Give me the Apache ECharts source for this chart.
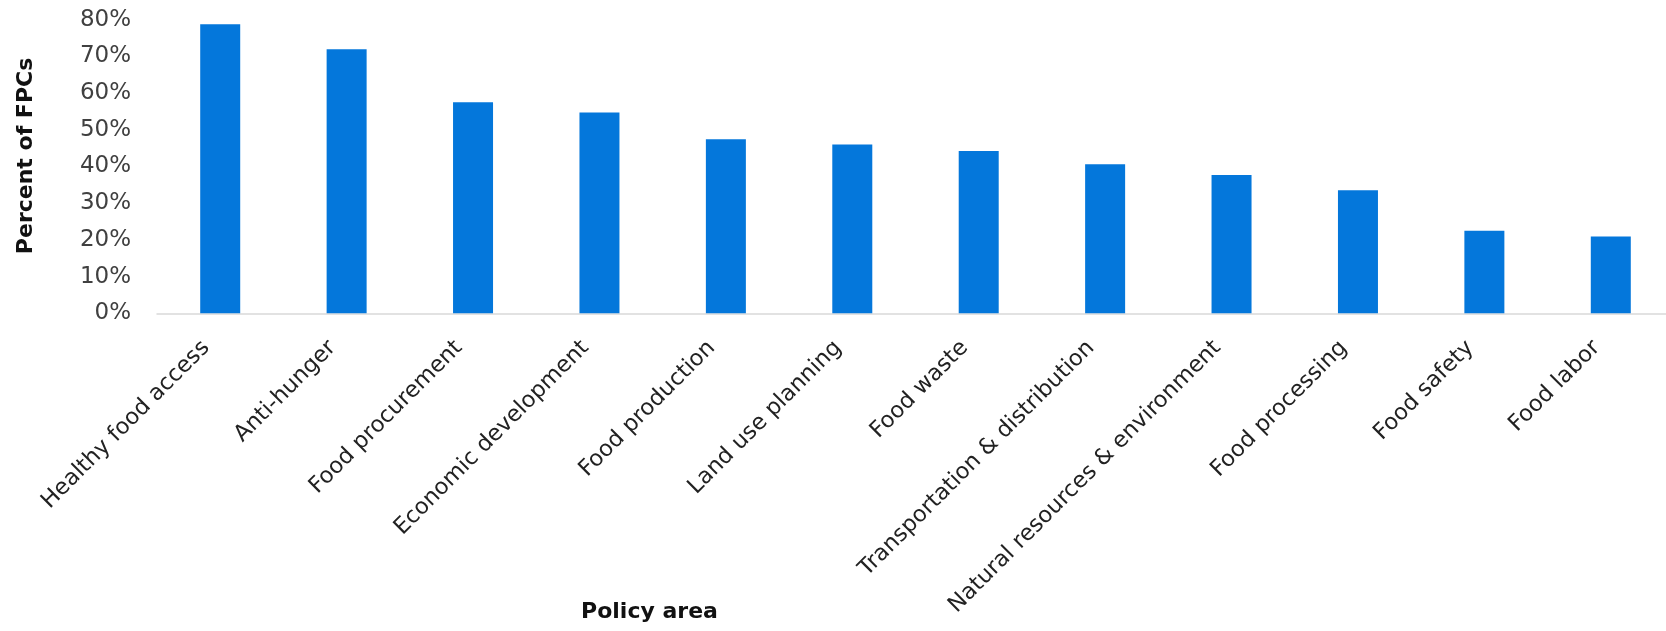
<!DOCTYPE html>
<html>
<head>
<meta charset="utf-8">
<script src="https://cdn.jsdelivr.net/npm/echarts@6/dist/echarts.min.js"></script>
<style>
html,body{margin:0;padding:0;background:#fff;}
#chart{width:1666px;height:631px;}
</style>
</head>
<body>
<div id="chart"></div>
<script>
const categories = [
  "Healthy food access",
  "Anti-hunger",
  "Food procurement",
  "Economic development",
  "Food production",
  "Land use planning",
  "Food waste",
  "Transportation & distribution",
  "Natural resources & environment",
  "Food processing",
  "Food safety",
  "Food labor"
];
const percentValues = [78.7, 71.9, 57.5, 54.7, 47.4, 46.0, 44.2, 40.6, 37.7, 33.5, 22.5, 20.9];
const yTicks = [0, 10, 20, 30, 40, 50, 60, 70, 80];
const xTitle = "Policy area";
const yTitle = "Percent of FPCs";

const FONT = "DejaVu Sans";
const chart = echarts.init(document.getElementById('chart'), null, {renderer: 'canvas'});
chart.setOption({
  animation: false,
  backgroundColor: '#ffffff',
  grid: {left: 157, top: 19.6, height: 293.7, width: 1517, containLabel: false, outerBoundsMode: 'none'},
  xAxis: {
    type: 'category',
    data: categories,
    name: xTitle,
    nameLocation: 'middle',
    nameGap: 288,
    nameMoveOverlap: false,
    nameTextStyle: {fontFamily: FONT, fontWeight: 'bold', fontSize: 22, color: '#111', padding: [0, 532, 0, 0]},
    axisLine: {show: true, lineStyle: {color: '#d9d9d9', width: 1.5}},
    axisTick: {show: false},
    axisLabel: {interval: 0, rotate: 45, margin: 17, padding: [0, 20, 0, 0], fontFamily: FONT, fontSize: 22.5, color: '#222'}
  },
  yAxis: {
    type: 'value',
    min: yTicks[0],
    max: yTicks[yTicks.length - 1],
    interval: yTicks[1] - yTicks[0],
    name: yTitle,
    nameLocation: 'middle',
    nameRotate: 90,
    nameGap: 120,
    nameMoveOverlap: false,
    nameTextStyle: {fontFamily: FONT, fontWeight: 'bold', fontSize: 22, color: '#111', padding: [0, 0, 0, 21]},
    axisLine: {show: false},
    axisTick: {show: false},
    splitLine: {show: false},
    axisLabel: {margin: 26, fontFamily: FONT, fontSize: 23, color: '#404040', formatter: v => v + '%'}
  },
  series: [{
    type: 'bar',
    data: percentValues,
    barWidth: 40,
    itemStyle: {color: '#0477DB'}
  }]
});
</script>
</body>
</html>
